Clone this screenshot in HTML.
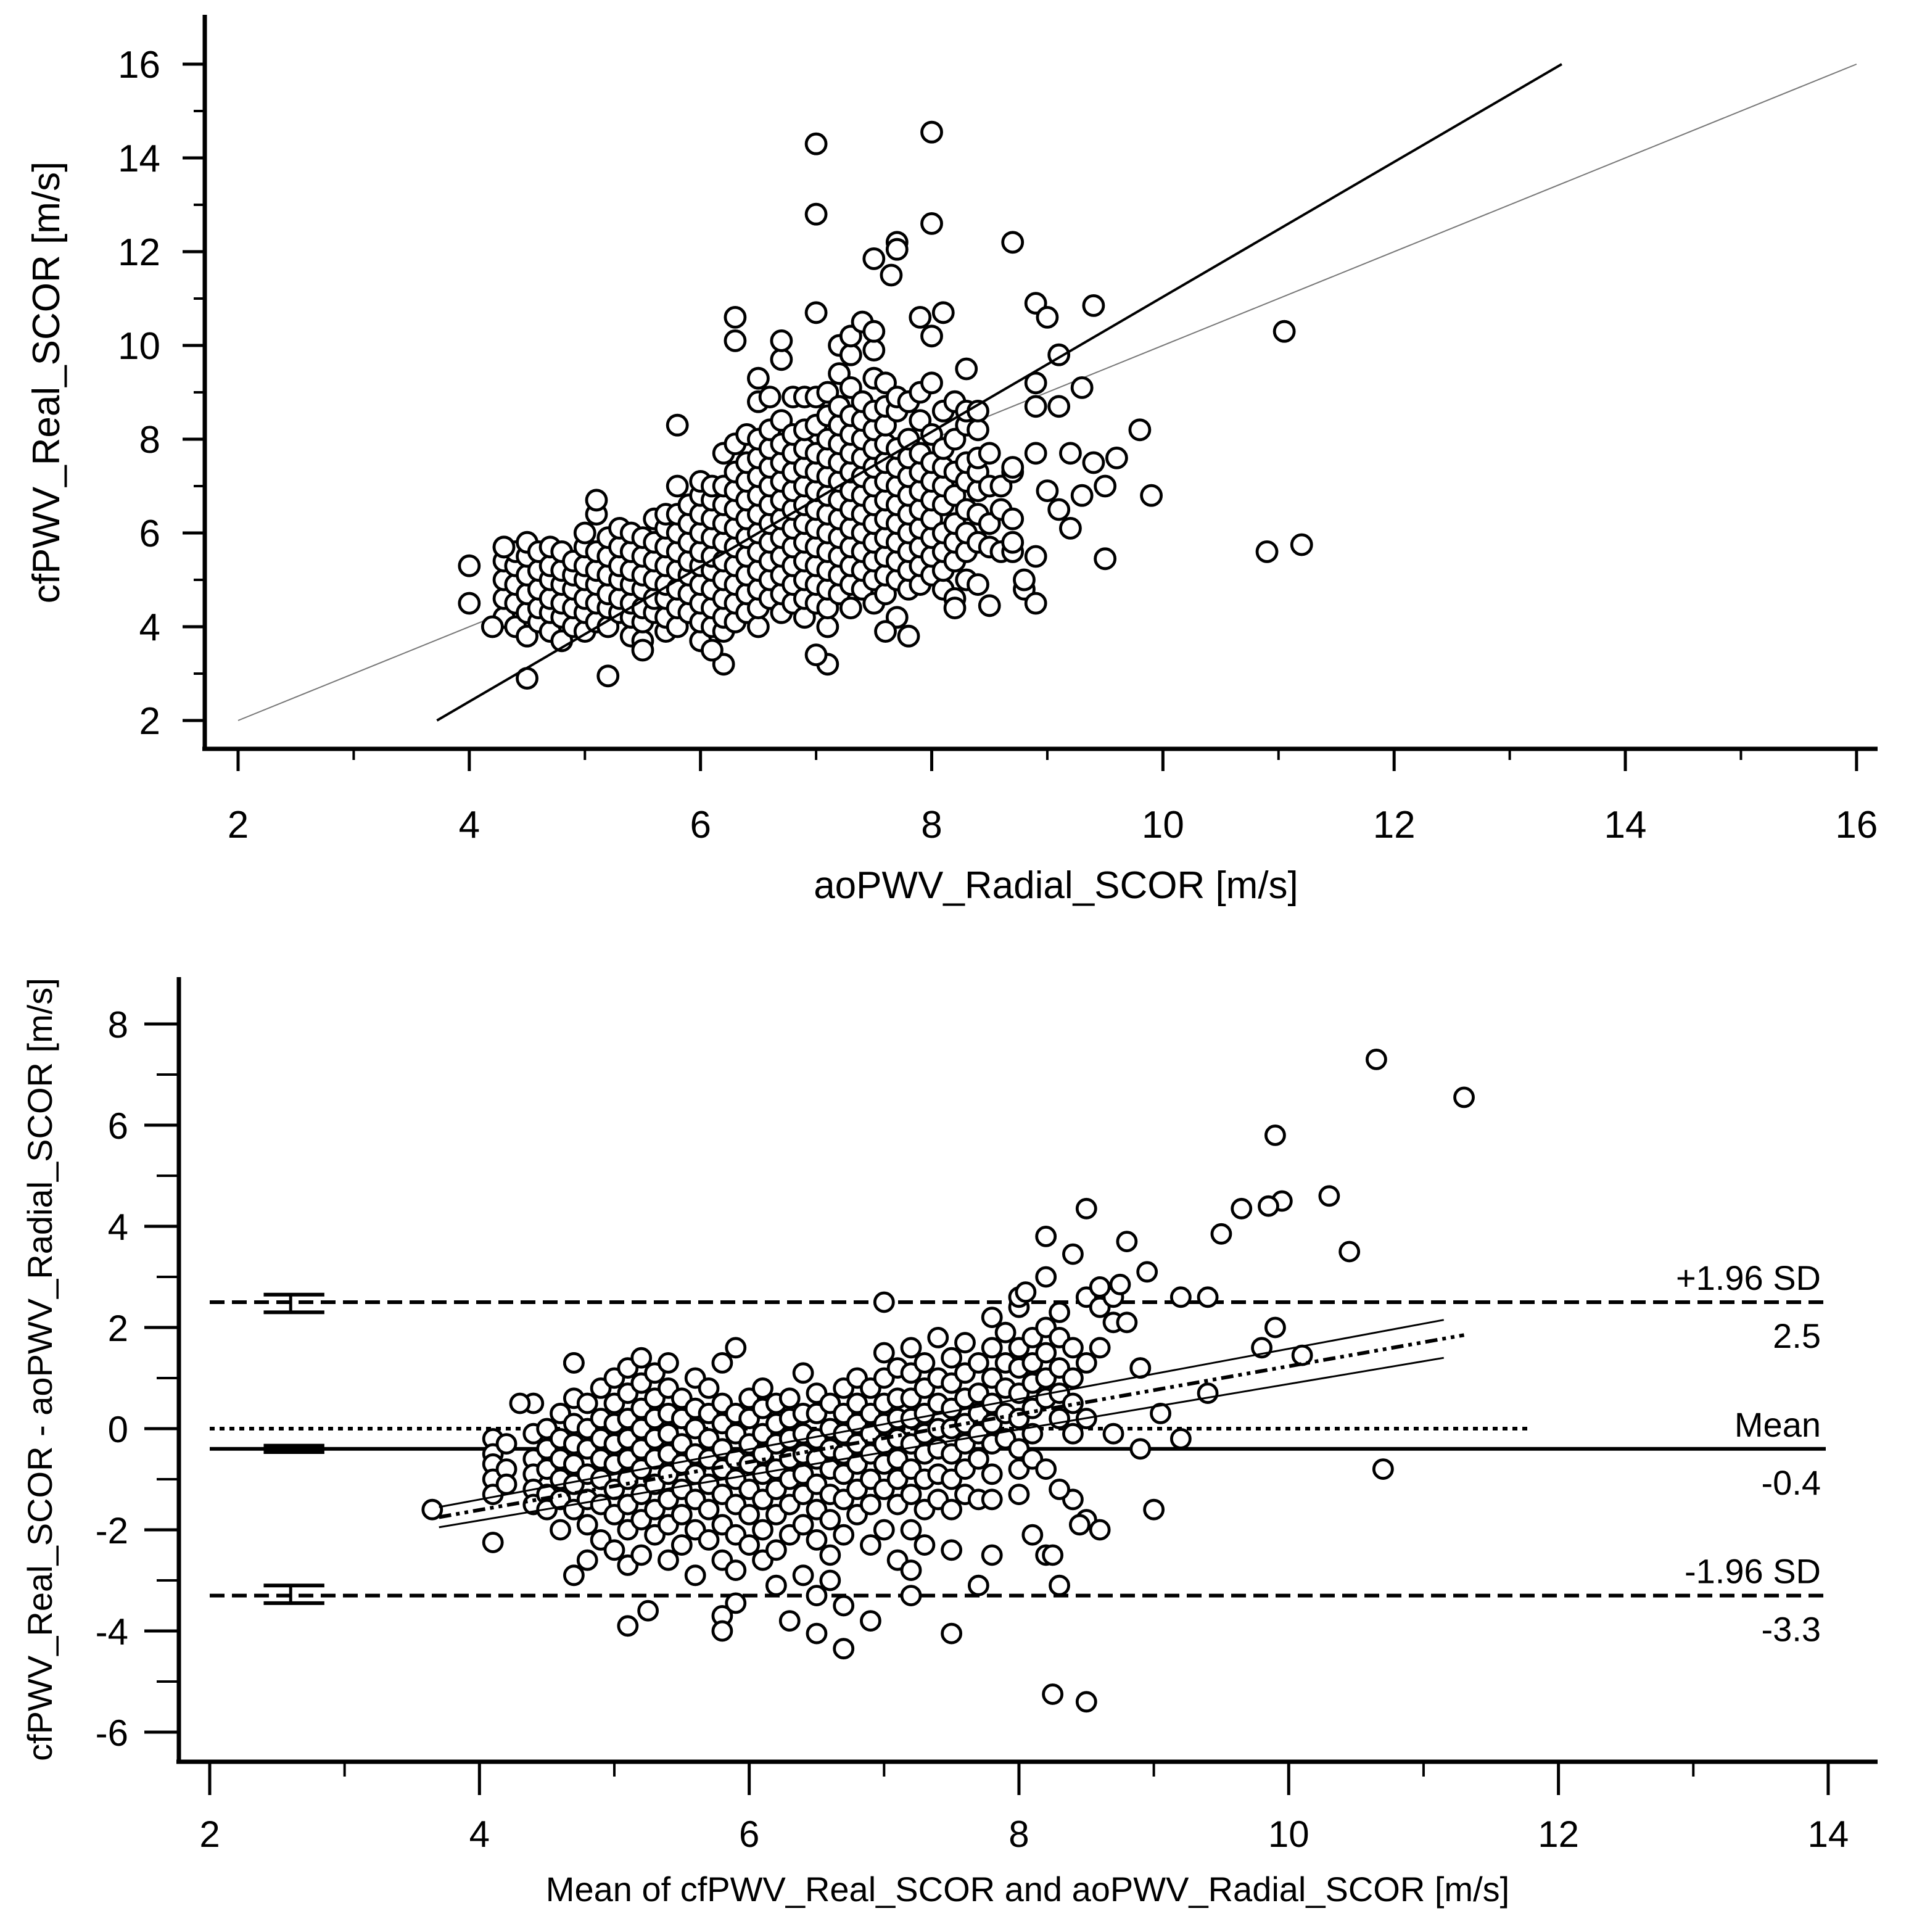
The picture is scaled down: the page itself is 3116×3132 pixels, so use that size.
<!DOCTYPE html>
<html><head><meta charset="utf-8">
<style>
html,body{margin:0;padding:0;background:#fff;}
svg{display:block;}
text{font-family:"Liberation Sans",Arial,sans-serif;fill:#000;}
</style></head>
<body>
<svg id="chart" width="3116" height="3132" viewBox="0 0 1558 1566" xmlns="http://www.w3.org/2000/svg">
<g id="top"></g>
<g id="bot"></g>
</svg>
<script>
// ===== DATA: top scatter (aoPWV_Radial_SCOR, cfPWV_Real_SCOR) =====
const topXTicks = [2,4,6,8,10,12,14,16];
const topYTicks = [2,4,6,8,10,12,14,16];
const topColumns = [
 [4.3,[4.2,4.6,5.0,5.4,5.7]],[4.4,[4.0,4.5,4.9,5.3,5.6]],[4.5,[3.8,4.3,4.7,5.1,5.5,5.8]],
 [4.6,[4.1,4.4,4.8,5.2,5.6]],[4.7,[3.9,4.3,4.6,5.0,5.3,5.7]],[4.8,[3.7,4.2,4.5,4.9,5.2,5.6]],
 [4.9,[4.0,4.4,4.8,5.1,5.4]],[5.0,[3.9,4.3,4.6,5.0,5.3,5.7,6.0]],[5.1,[4.1,4.5,4.9,5.2,5.6,6.4,6.7]],
 [5.2,[4.0,4.4,4.7,5.1,5.5,5.9]],[5.3,[4.3,4.6,5.0,5.3,5.7,6.1]],[5.4,[3.8,4.2,4.5,4.9,5.2,5.6,6.0]],
 [5.5,[3.7,4.1,4.4,4.8,5.1,5.5,5.9]],[5.6,[4.3,4.6,5.0,5.4,5.8,6.3]],[5.7,[3.9,4.2,4.6,4.9,5.3,5.7,6.1,6.4]],
 [5.8,[4.0,4.4,4.8,5.2,5.6,6.0,6.4,7.0]],[5.9,[4.3,4.7,5.1,5.4,5.8,6.2,6.6]],
 [6.0,[3.7,4.1,4.5,4.9,5.3,5.6,6.0,6.4,6.8,7.1]],[6.1,[4.0,4.4,4.8,5.2,5.5,5.9,6.3,6.7,7.0]],
 [6.2,[3.9,4.2,4.6,5.0,5.4,5.8,6.2,6.6,7.0,7.7]],[6.3,[4.1,4.5,4.9,5.3,5.7,6.1,6.5,6.9,7.3,7.9]],
 [6.4,[4.3,4.7,5.1,5.5,5.9,6.3,6.7,7.1,7.5,8.1]],[6.5,[4.0,4.4,4.8,5.2,5.6,6.0,6.4,6.8,7.2,7.6,8.0,8.8,9.3]],
 [6.6,[4.6,5.0,5.4,5.8,6.2,6.6,7.0,7.4,7.8,8.2,8.9]],[6.7,[4.3,4.7,5.1,5.5,5.9,6.3,6.7,7.1,7.5,7.9,8.4,9.7,10.1]],
 [6.8,[4.5,4.9,5.3,5.7,6.1,6.5,6.9,7.3,7.7,8.1,8.9]],[6.9,[4.2,4.6,5.0,5.4,5.8,6.2,6.6,7.0,7.4,7.8,8.2,8.9]],
 [7.0,[4.5,4.9,5.3,5.7,6.1,6.5,6.9,7.3,7.7,8.3,8.9]],[7.1,[4.0,4.4,4.8,5.2,5.6,6.0,6.4,6.8,7.2,7.6,8.0,8.5,9.0]],
 [7.2,[4.7,5.1,5.5,5.9,6.3,6.7,7.1,7.5,7.9,8.3,8.7,9.4,10.0]],[7.3,[4.4,4.9,5.3,5.7,6.1,6.5,6.9,7.3,7.7,8.1,8.5,9.1,9.8,10.2]],
 [7.4,[4.8,5.2,5.6,6.0,6.4,6.8,7.2,7.6,8.0,8.4,8.8,10.5]],[7.5,[4.5,5.0,5.4,5.8,6.2,6.6,7.0,7.4,7.8,8.2,8.6,9.3,9.9,10.3]],
 [7.6,[4.7,5.1,5.5,5.9,6.3,6.7,7.1,7.5,7.9,8.3,8.7,9.2]],[7.7,[4.2,5.0,5.4,5.8,6.2,6.6,7.0,7.4,7.8,8.6,8.9]],
 [7.8,[4.8,5.2,5.6,6.0,6.4,6.8,7.2,7.6,8.0,8.8]],[7.9,[4.9,5.3,5.7,6.1,6.5,6.9,7.3,7.7,8.4,9.0]],
 [8.0,[5.1,5.5,5.9,6.3,6.7,7.1,7.5,8.1,9.2,10.2]],[8.1,[4.8,5.2,5.6,6.0,6.6,7.0,7.4,7.8,8.6]],
 [8.2,[4.6,5.4,5.8,6.2,6.8,7.3,8.0,8.8]],[8.3,[5.0,5.6,6.0,6.5,7.1,7.5,8.3,8.6]],
 [8.4,[4.9,5.8,6.4,6.9,7.3,7.6,8.2,8.6]],[8.5,[5.7,6.2,7.0,7.7]],[8.6,[5.6,6.5,7.0]],
 [8.7,[5.6,5.8,6.3,7.3,7.4]],[8.8,[4.8,5.0]]
];
const topOutliers = [[7,14.3],[8,14.55],[7,12.8],[8,12.6],[7.7,12.2],[7.7,12.05],[8.7,12.2],[7.5,11.85],[7.65,11.5],
 [6.3,10.6],[6.3,10.1],[7,10.7],[8.9,10.9],[9,10.6],[9.4,10.85],[11.05,10.3],[7.9,10.6],[8.1,10.7],[9.1,9.8],[8.3,9.5],
 [8.9,9.2],[9.3,9.1],[5.8,8.3],[9.8,8.2],[9.6,7.6],[9.4,7.5],[9.9,6.8],[9.5,7],[9.2,6.1],[9.5,5.45],[10.9,5.6],[11.2,5.75],
 [8.9,4.5],[8.5,4.45],[8.2,4.4],[7.8,3.8],[7.6,3.9],[7.1,3.2],[7,3.4],[6.2,3.2],[6.1,3.5],[5.2,2.95],[4.5,2.9],[5.5,3.5],
 [4,4.5],[4,5.3],[4.2,4],[4.3,5.7],[9,6.9],[9.2,7.7],[8.9,7.7],[9.3,6.8],[8.9,8.7],[9.1,8.7],[8.9,5.5],[9.1,6.5]];
const topRegX = [3.72,13.45];
const topRegY = [2,16];
const identityLine = [2,16];

// ===== DATA: Bland-Altman (mean, difference) =====
const botXTicks = [2,4,6,8,10,12,14];
const botYTicks = [-6,-4,-2,0,2,4,6,8];
const botColumns = [
 [4.1,[-0.2,-0.5,-0.7,-1.0,-1.3]],[4.2,[-0.3,-0.8,-1.1]],[4.4,[-0.1,-0.6,-0.9,-1.2,-1.5,0.5]],
 [4.5,[0.0,-0.4,-0.8,-1.3,-1.6]],[4.6,[0.3,-0.2,-0.6,-1.0,-1.4,-2.0]],[4.7,[0.6,0.1,-0.3,-0.7,-1.1,-1.6,1.3,-2.9]],
 [4.8,[0.5,0.0,-0.4,-0.9,-1.4,-1.9,-2.6]],[4.9,[0.8,0.2,-0.2,-0.6,-1.0,-1.5,-2.2]],[5.0,[1.0,0.5,0.1,-0.3,-0.7,-1.2,-1.7,-2.4]],
 [5.1,[1.2,0.7,0.2,-0.2,-0.6,-1.0,-1.5,-2.0,-2.7]],[5.2,[1.4,0.9,0.4,0.0,-0.4,-0.8,-1.3,-1.8,-2.5]],
 [5.3,[1.1,0.6,0.2,-0.2,-0.6,-1.1,-1.6,-2.1]],[5.4,[1.3,0.8,0.3,-0.1,-0.5,-0.9,-1.4,-1.9,-2.6]],
 [5.5,[0.6,0.2,-0.3,-0.7,-1.2,-1.7,-2.3]],[5.6,[1.0,0.4,0.0,-0.5,-0.9,-1.4,-2.0,-2.9]],
 [5.7,[0.8,0.3,-0.2,-0.6,-1.1,-1.6,-2.2]],[5.8,[1.3,0.5,0.1,-0.4,-0.8,-1.3,-1.9,-2.6,-3.7]],
 [5.9,[1.6,0.3,-0.1,-0.6,-1.0,-1.5,-2.1,-2.8]],[6.0,[0.6,0.2,-0.3,-0.7,-1.2,-1.7,-2.3]],
 [6.1,[0.8,0.4,-0.1,-0.5,-0.9,-1.4,-2.0,-2.6]],[6.2,[0.5,0.1,-0.3,-0.8,-1.2,-1.7,-2.4,-3.1]],
 [6.3,[0.6,0.2,-0.2,-0.6,-1.0,-1.5,-2.1,-3.8]],[6.4,[1.1,0.3,-0.1,-0.5,-0.9,-1.3,-1.9,-2.9]],
 [6.5,[0.7,0.3,-0.2,-0.6,-1.1,-1.6,-2.2,-3.3]],[6.6,[0.5,0.0,-0.4,-0.8,-1.3,-1.8,-2.5,-3.0]],
 [6.7,[0.8,0.3,-0.1,-0.5,-0.9,-1.4,-2.1,-3.5]],[6.8,[1.0,0.5,0.1,-0.3,-0.7,-1.2,-1.7]],
 [6.9,[0.8,0.3,-0.1,-0.5,-1.0,-1.5,-2.3,-3.8]],[7.0,[1.5,1.0,0.5,0.1,-0.3,-0.7,-1.2,-2.0]],
 [7.1,[1.2,0.6,0.2,-0.2,-0.6,-1.0,-1.5,-2.6]],[7.2,[1.6,1.1,0.6,0.2,-0.3,-0.8,-1.3,-2.0,-2.8,-3.3]],
 [7.3,[1.3,0.8,0.3,-0.1,-0.5,-1.0,-1.6,-2.3]],[7.4,[1.8,1.0,0.5,0.0,-0.4,-0.9,-1.4]],
 [7.5,[1.4,0.9,0.4,0.0,-0.5,-1.0,-1.6,-2.4]],[7.6,[1.7,1.1,0.6,0.1,-0.3,-0.8,-1.3]],
 [7.7,[1.3,0.7,0.3,-0.1,-0.6,-1.4,-3.1]],[7.8,[2.2,1.6,1.0,0.5,0.1,-0.3,-0.9,-1.4,-2.5]],
 [7.9,[1.9,1.3,0.8,0.3,-0.2]],[8.0,[2.4,1.6,1.2,0.7,0.2,-0.4,-0.8,-1.3]],
 [8.1,[1.8,1.3,0.9,0.4,-0.1,-0.6,-2.1]],[8.2,[2.0,1.5,1.0,0.6,-0.8,-2.5]],[8.3,[2.3,1.8,1.2,0.7,0.2]],
 [8.4,[1.6,1.0,0.5,-0.1,-1.4]],[8.5,[2.6,1.3,0.2,-1.8]],[8.6,[2.4,1.6]],[8.7,[2.1,2.6,-0.1]],[8.9,[1.2,-0.4]]
];
const botOutliers = [[10.65,7.3],[11.3,6.55],[9.9,5.8],[10.3,4.6],[9.95,4.5],[9.85,4.4],[9.65,4.35],[10.45,3.5],[9.5,3.85],
 [8.5,4.35],[8.2,3.8],[8.8,3.7],[8.4,3.45],[8.95,3.1],[8.2,3],[9.2,2.6],[9.4,2.6],[10.1,1.45],[9.9,2],[9.8,1.6],[9.4,0.7],
 [9.05,0.3],[9.2,-0.2],[10.7,-0.8],[9,-1.6],[8.3,-1.2],[8.45,-1.9],[8.6,-2],[8.25,-2.5],[8.3,-3.1],[8.25,-5.25],[8.5,-5.4],
 [7.5,-4.05],[6.7,-4.35],[6.5,-4.05],[5.9,-3.45],[5.8,-4],[5.1,-3.9],[5.25,-3.6],[3.65,-1.6],[4.1,-2.25],[4.3,0.5],[4.7,1.3],
 [7,2.5],[8,2.6],[8.05,2.7],[8.6,2.8],[8.75,2.85],[8.8,2.1],[8.9,1.2]];
const meanDiff = -0.4, upperLoA = 2.5, lowerLoA = -3.3;
const upperCI = [2.3,2.65], lowerCI = [-3.45,-3.1], meanCI = [-0.5,-0.3];
const regX = [3.7,11.3], regY = [-1.75,1.85];
const ciUpX = [3.7,11.15], ciUpY = [-1.55,2.15];
const ciLoX = [3.7,11.15], ciLoY = [-1.95,1.4];
const biasLabels = ["+1.96 SD","2.5","Mean","-0.4","-1.96 SD","-3.3"];

// ===== helpers =====
const NS = "http://www.w3.org/2000/svg";
function mk(parent, tag, attrs, txt){
  const e = document.createElementNS(NS, tag);
  for (const k in attrs) e.setAttribute(k, attrs[k]);
  if (txt !== undefined) e.textContent = txt;
  parent.appendChild(e); return e;
}
function line(p,x1,y1,x2,y2,w,extra,name){
  const e = mk(p,'line',Object.assign({x1:x1,y1:y1,x2:x2,y2:y2,stroke:'#000','stroke-width':w},extra||{}));
  
  
  return e;
}
function txt(p,x,y,s,size,anchor,name,extra){
  const e = mk(p,'text',Object.assign({x:x,y:y,'font-size':size,'text-anchor':anchor||'middle'},extra||{}),s);
  
  
  return e;
}

// ===== TOP PANEL =====
const T = document.getElementById('top');
const tx = v => 193 + (v-2)*93.71;
const ty = v => 584 - (v-2)*38;
line(T,166,12,166,608,3.5,{},'y-axis-line');
line(T,164,607,1522,607,3.5,{},'x-axis-line');
for (let v=3; v<=15; v+=2){ line(T,157,ty(v),166,ty(v),2,{},'y-minor-tick'); line(T,tx(v),607,tx(v),616,2,{},'x-minor-tick'); }
topYTicks.forEach(v=>{ line(T,148,ty(v),166,ty(v),2.5,{},'y-tick'); txt(T,130,ty(v)+11,String(v),31,'end','y-tick-label'); });
topXTicks.forEach(v=>{ line(T,tx(v),607,tx(v),625,2.5,{},'x-tick'); txt(T,tx(v),679,String(v),31,'middle','x-tick-label'); });
txt(T,856,728,'aoPWV_Radial_SCOR [m/s]',31,'middle','x-axis-title');
txt(T,0,0,'cfPWV_Real_SCOR [m/s]',31,'middle','y-axis-title',{transform:'translate(48,310) rotate(-90)'});
line(T,tx(identityLine[0]),ty(identityLine[0]),tx(identityLine[1]),ty(identityLine[1]),1,{stroke:'#777'},'identity-line');
const tg = mk(T,'g',{});


function dotT(x,y){ const c=mk(tg,'circle',{cx:tx(x),cy:ty(y),r:8,fill:'#fff',stroke:'#000','stroke-width':2.4});
    }
topColumns.forEach(([x,ys])=>ys.forEach(y=>dotT(x,y)));
topOutliers.forEach(([x,y])=>dotT(x,y));
line(T,tx(topRegX[0]),ty(topRegY[0]),tx(topRegX[1]),ty(topRegY[1]),2,{},'regression-line');

// ===== BOTTOM PANEL =====
const B = document.getElementById('bot');
const bx = v => 170 + (v-2)*109.33;
const by = v => 1158 - v*41.0;
line(B,145,792,145,1429,3.5,{},'y-axis-line');
line(B,143,1428,1522,1428,3.5,{},'x-axis-line');
for (let v=-5; v<=7; v+=2) line(B,127,by(v),145,by(v),2,{},'y-minor-tick');
for (let v=3; v<=13; v+=2) line(B,bx(v),1428,bx(v),1440,2,{},'x-minor-tick');
botYTicks.forEach(v=>{ line(B,117,by(v),145,by(v),2.5,{},'y-tick'); txt(B,104,by(v)+11,String(v),30,'end','y-tick-label'); });
botXTicks.forEach(v=>{ line(B,bx(v),1428,bx(v),1455,2.5,{},'x-tick'); txt(B,bx(v),1497,String(v),30,'middle','x-tick-label'); });
txt(B,833,1541,'Mean of cfPWV_Real_SCOR and aoPWV_Radial_SCOR [m/s]',28,'middle','x-axis-title');
txt(B,0,0,'cfPWV_Real_SCOR - aoPWV_Radial_SCOR [m/s]',28,'middle','y-axis-title',{transform:'translate(42,1110) rotate(-90)'});
// reference lines
line(B,170,by(0),1238,by(0),3,{'stroke-dasharray':'4 4'},'zero-line');
line(B,170,by(meanDiff),1480,by(meanDiff),3,{},'mean-line');
line(B,170,by(upperLoA),1480,by(upperLoA),3,{'stroke-dasharray':'12 6'},'upper-limit-line');
line(B,170,by(lowerLoA),1480,by(lowerLoA),3,{'stroke-dasharray':'12 6'},'lower-limit-line');
// CI bars at left
const cx1 = bx(2.4), cx2 = bx(2.85), cm = bx(2.6);
[[upperCI,'upper-limit-ci'],[lowerCI,'lower-limit-ci']].forEach(([ci,n])=>{
  line(B,cx1,by(ci[0]),cx2,by(ci[0]),3,{},n+'-low');
  line(B,cx1,by(ci[1]),cx2,by(ci[1]),3,{},n+'-high');
  line(B,cm,by(ci[0]),cm,by(ci[1]),2.5,{},n+'-stem');
});
const mr = mk(B,'rect',{x:cx1,y:by(meanCI[1]),width:cx2-cx1,height:by(meanCI[0])-by(meanCI[1]),fill:'#000'});


// labels
const lY = [by(upperLoA)-10, by(upperLoA)+37, by(meanDiff)-10, by(meanDiff)+37, by(lowerLoA)-10, by(lowerLoA)+37];
biasLabels.forEach((s,i)=>txt(B,1476,lY[i],s,28,'end','limit-label'));
// points
const bg = mk(B,'g',{});


function dotB(x,y){ const c=mk(bg,'circle',{cx:bx(x),cy:by(y),r:7.5,fill:'#fff',stroke:'#000','stroke-width':2.4});
    }
botColumns.forEach(([x,ys])=>ys.forEach(y=>dotB(x,y)));
botOutliers.forEach(([x,y])=>dotB(x,y));
// regression and CI
line(B,bx(ciUpX[0]),by(ciUpY[0]),bx(ciUpX[1]),by(ciUpY[1]),1.5,{},'regression-ci-upper');
line(B,bx(ciLoX[0]),by(ciLoY[0]),bx(ciLoX[1]),by(ciLoY[1]),1.5,{},'regression-ci-lower');
line(B,bx(regX[0]),by(regY[0]),bx(regX[1]),by(regY[1]),3,{'stroke-dasharray':'10 4 3 4 3 4'},'regression-line');
</script>
</body></html>
